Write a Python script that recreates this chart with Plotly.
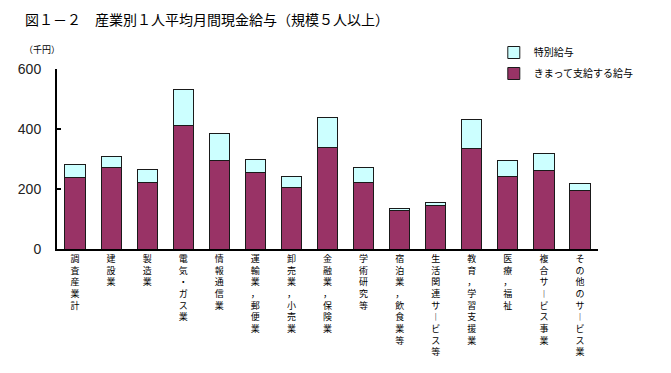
import plotly.graph_objects as go

categories = ["調査産業計", "建設業", "製造業", "電気・ガス業", "情報通信業",
              "運輸業，郵便業", "卸売業，小売業", "金融業，保険業", "学術研究等",
              "宿泊業，飲食業等", "生活関連サービス等", "教育，学習支援業",
              "医療，福祉", "複合サービス事業", "その他のサービス業"]
regular_pay = [237, 273, 222, 412, 296, 256, 206, 337, 222, 127, 144, 336, 243, 263, 196]
special_pay = [46, 34, 44, 120, 90, 42, 35, 102, 50, 9, 10, 97, 53, 56, 23]
y_ticks = [0, 200, 400, 600]

VERT = {"ー": "︱"}
def vertical(s):
    return "<br>".join(VERT.get(c, c) for c in s)

ticktext = [vertical(c) for c in categories]
JP = "Noto Sans CJK JP"

# page body has an 8px default margin; figure is sized/offset to compensate
W, H = 663, 365
L, T, PW, PH = 49, 61, 541, 180

fig = go.Figure()
fig.add_trace(go.Bar(x=categories, y=regular_pay, name="きまって支給する給与",
                     legendgroup="b", legendrank=2,
                     marker=dict(color="#993366", line=dict(color="#1a1a1a", width=1))))
fig.add_trace(go.Bar(x=categories, y=special_pay, name="特別給与",
                     legendgroup="a", legendrank=1,
                     marker=dict(color="#CCFFFF", line=dict(color="#1a1a1a", width=1))))

fig.update_layout(
    width=W, height=H,
    barmode="stack", bargap=0.44,
    plot_bgcolor="white", paper_bgcolor="white",
    margin=dict(l=L, r=W-L-PW, t=T, b=H-T-PH, autoexpand=False),
    font=dict(family=JP, color="#000"),
    title=dict(text="図１－２　産業別１人平均月間現金給与（規模５人以上）",
               x=17/W, xanchor="left", y=1-12/H, yanchor="middle",
               font=dict(family=JP, size=14, color="#000"), automargin=False),
    showlegend=True,
    legend=dict(traceorder="grouped", x=0.80+4/PW, xanchor="left", y=1+31/PH, yanchor="top",
                font=dict(family=JP, size=10), bgcolor="rgba(0,0,0,0)",
                tracegroupgap=2, itemwidth=30),
    xaxis=dict(tickmode="array", tickvals=categories, ticktext=ticktext, automargin=False,
               tickangle=0, showline=True, linecolor="#000", linewidth=2,
               ticks="", tickfont=dict(family=JP, size=9), showgrid=False,
               range=[-0.5, len(categories)-0.5]),
    yaxis=dict(range=[0, 600], tickvals=y_ticks, showline=True, linecolor="#000", automargin=False,
               linewidth=2, ticks="inside", ticklen=4, tickwidth=2, tickcolor="#000",
               showgrid=False, zeroline=False,
               tickfont=dict(family="Liberation Sans", size=14, color="#222"),
               ticklabelstandoff=11),
    annotations=[dict(text="（千円）", xref="paper", yref="paper",
                      x=(22-57)/PW, xanchor="left", y=1+19/PH, yanchor="middle",
                      showarrow=False, font=dict(family=JP, size=9))],
)

fig.write_html("out.html")
